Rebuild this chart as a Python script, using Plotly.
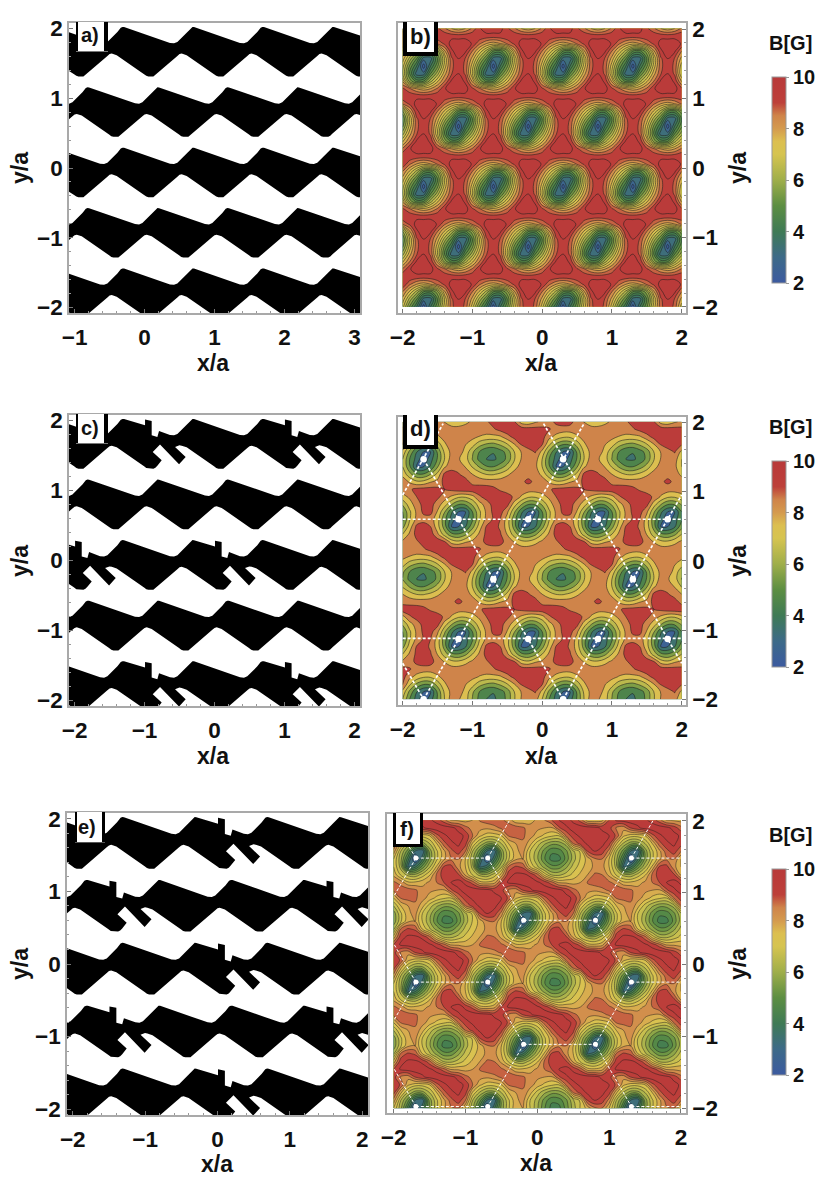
import math
import plotly.graph_objects as go

OFF = 8  # page body margin
W, H = 815, 1178
FONT = "Liberation Sans"

# ---- black pattern: one cell of one band (x/a, y/a)
TOP_START = [(-1.388, .219), (-1.34, .281), (-1.315, .292), (-1.293, .29)]
TOP_NOTCH = [(-.993, .201), (-.993, .282), (-.898, .263), (-.898, .058), (-.817, .035), (-.793, .12)]
TOP_END = [(-.636, .062), (-.579, .057), (-.531, .076)]
BOT_START = [(-1.469, -.09), (-1.398, -.114), (-1.007, -.386), (-.975, -.41), (-.945, -.419), (-.874, -.419), (-.845, -.405), (-.817, -.376)]
BOT_PLAIN = [(-.531, -.124), (-.5, -.098)]
BOT_SLIT = [(-.755, -.299), (-.883, -.18), (-.779, -.075), (-.507, -.356), (-.412, -.251), (-.564, -.108), (-.502, -.084)]
ROW_STEP = .866
ROW_ODD_SHIFT = -.5
ROWS = [-3, -2, -1, 0, 1, 2, 3]
CELLS = list(range(-4, 7))
DEFECTS_A = {}
DEFECTS_C = {2: [0, 2], 0: [-1, 1], -2: [0, 2]}
DEFECTS_E = {2: [1], 1: [0, 3], 0: [1], -1: [0, 3], -2: [1]}

# ---- B field, one repeating cell each (Gauss)
B_CELL = [
    [9.3, 9.35, 9.4, 9.4, 9.35, 9.3, 9.35, 9.45, 9.45, 9.35],
    [9.8, 9.7, 9.1, 8.6, 8.0, 7.7, 8.0, 8.6, 9.45, 9.75],
    [9.8, 9.4, 7.9, 5.8, 4.8, 5.0, 6.3, 7.4, 8.5, 9.6],
    [9.5, 8.9, 7.0, 5.0, 3.2, 3.2, 5.0, 6.3, 7.8, 8.95],
    [9.4, 8.85, 7.2, 5.4, 4.0, 2.2, 4.0, 5.4, 7.2, 8.85],
    [9.5, 8.95, 7.8, 6.3, 5.0, 3.2, 3.2, 5.0, 7.0, 8.9],
    [9.8, 9.6, 8.5, 7.4, 6.3, 5.0, 4.8, 5.8, 7.9, 9.4],
    [9.8, 9.75, 9.45, 8.6, 8.0, 7.7, 8.0, 8.6, 9.1, 9.7],
]
D_CELL = [
    [9.7, 9.6, 9.5, 9.25, 8.85, 8.6, 8.6, 8.55, 8.5, 8.5, 8.5, 8.85, 9.25, 9.35, 9.35, 9.25, 9.0, 9.25, 9.6, 9.7],
    [8.55, 8.5, 8.5, 8.5, 8.5, 8.55, 8.6, 8.8, 9.2, 8.8, 8.6, 7.85, 7.2, 7.3, 7.9, 8.3, 9.35, 9.7, 9.7, 9.5],
    [8, 7.5, 6.95, 6.9, 7.25, 7.85, 8.3, 8.6, 8.7, 8.6, 7.7, 6.3, 5.2, 5.1, 6, 7.3, 9.25, 9.5, 9.1, 8.5],
    [6.9, 5.9, 5.1, 5, 5.55, 6.4, 7.7, 8.3, 8.6, 8.3, 7, 5.2, 3, 3, 4.15, 5.9, 7.85, 8.55, 8.55, 7.95],
    [5.95, 4.7, 4, 3.85, 4.25, 5.3, 6.9, 8.05, 8.55, 8.5, 7, 5, 3.6, 2.2, 3.6, 5.1, 7, 8.5, 8.1, 7.5],
    [6.2, 5, 4.1, 4.05, 4.55, 5.4, 7, 8.05, 8.55, 9.1, 7.7, 5.75, 4.05, 3, 3, 5.2, 7.2, 8.3, 8.5, 7.7],
    [7.45, 6.4, 5.9, 5.7, 6.2, 6.95, 7.95, 9.1, 9.6, 9.6, 9.1, 7.2, 5.8, 5.1, 5.3, 6.4, 7.85, 8.5, 8.55, 8.05],
    [8.3, 7.95, 7.7, 7.7, 7.85, 8.6, 9.35, 9.7, 9.7, 9.6, 9.4, 8.3, 7.7, 7.2, 7.2, 7.85, 8.3, 8.6, 8.6, 8.55],
    [8.5, 8.5, 8.6, 8.85, 9.35, 9.7, 9.7, 9.6, 9.5, 9.4, 9.35, 9.1, 8.55, 8.5, 8.5, 8.5, 8.55, 8.5, 8.5, 8.55],
    [8.2, 8.6, 8.85, 9.4, 9.7, 9.6, 9.1, 7.55, 7.2, 7.85, 8.2, 8.6, 9.25, 9.6, 9.4, 8.5, 7.95, 7.3, 7.2, 7.7],
    [7, 8.2, 9.35, 9.6, 9.5, 8.2, 6.5, 5.35, 5.1, 5.75, 7, 8.2, 9.25, 9.5, 9.1, 7.95, 6.5, 5.35, 5.1, 5.75],
    [5.65, 7.5, 9.25, 9.5, 9, 7.4, 5.55, 3, 3, 3.95, 5.65, 7.5, 9.1, 9.4, 8.85, 7.5, 5.6, 3, 3, 3.85],
    [4.8, 6.9, 8.3, 8.6, 8.5, 7.45, 5.3, 3.6, 2.2, 3.6, 4.8, 6.9, 8.3, 9.1, 9, 7.55, 5.4, 3.6, 2.2, 3.6],
    [5, 6.8, 8.2, 9.25, 9.35, 7.9, 6.1, 4.15, 3, 3, 5, 6.8, 8.2, 9.25, 9.4, 8.2, 6.2, 4.25, 3, 3],
    [6.15, 7.55, 8.5, 9.35, 9.4, 8.5, 7.5, 6.1, 5.1, 5.2, 6.15, 7.55, 8.5, 9.35, 9.5, 9.35, 7.5, 6.1, 5.1, 5.2],
    [7.65, 8.2, 9, 9.5, 9.5, 9.25, 8.5, 7.85, 7.2, 7.15, 7.65, 8.85, 9.4, 9.6, 9.6, 9.35, 8.85, 7.9, 7.2, 7.15],
]
F_CELL = [
    [9.2, 8.4, 8.2, 9.0, 9.4, 9.7, 9.8, 9.8, 9.7, 9.3, 8.7, 8.3, 8.2, 8.1, 8.3, 8.6, 8.8, 8.8, 8.6, 8.2, 8.1, 8, 7.9, 8.9, 9.4, 9.7, 9.8, 9.8, 9.7, 9.4],
    [9.0, 9.6, 9.75, 9.8, 9.75, 9.6, 9.3, 8.7, 7.9, 7.9, 7.8, 8, 8.55, 8.8, 8.9, 8.6, 8.3, 7.6, 7.6, 7.8, 8.1, 8.5, 9.0, 9.5, 9.7, 9.4, 8.8, 7.7, 7.6, 7.8],
    [7.7, 9.3, 9.6, 9.6, 9.4, 8.7, 7.3, 6.4, 6.35, 6.7, 7.15, 7.6, 8, 8.6, 8.5, 7.85, 6.9, 6.3, 6.1, 6.7, 7.4, 8.6, 9.3, 9.5, 9.1, 7.85, 6.9, 6.3, 6.1, 6.7],
    [6.4, 8.6, 9.1, 8.9, 7.5, 6.6, 5.8, 5.2, 5.25, 5.85, 6.7, 7.25, 7.8, 8.1, 8.2, 7.5, 6.3, 3.4, 3.9, 5.2, 6.4, 7.6, 9.1, 9.2, 8.2, 7.5, 6.3, 3.4, 3.9, 5.2],
    [5.65, 6.9, 7.9, 8, 7, 6.1, 5.05, 4.3, 4.3, 5.15, 6.25, 7.05, 7.7, 8.4, 8.5, 7.5, 6.15, 4.2, 2.2, 3.9, 5.65, 6.9, 7.9, 8.4, 8.5, 7.5, 6.15, 4.2, 2.2, 3.9],
    [5.7, 6.9, 7.85, 8.2, 7, 6.25, 5.25, 4.6, 4.7, 5.35, 6.4, 7.1, 9, 9.5, 9.3, 8.3, 6.5, 5.2, 3.4, 3.0, 5.7, 6.9, 7.85, 8.8, 9.3, 8.5, 6.5, 5.2, 3.4, 3.0],
    [6.5, 7.5, 8, 8.4, 7.7, 6.75, 6.1, 5.65, 5.7, 6.2, 8.5, 9.2, 9.6, 9.75, 9.65, 9.2, 7.6, 6.4, 5.7, 5.75, 6.5, 7.5, 8.8, 9.4, 9.6, 9.2, 7.4, 6.4, 5.7, 5.75],
    [7.5, 8.55, 8.7, 8.6, 8.2, 7.8, 7.35, 7.1, 7, 8.5, 9.3, 9.6, 9.75, 9.75, 9.7, 9.5, 8.9, 7.6, 7.2, 7.2, 7.5, 8.8, 9.4, 9.65, 9.7, 9.4, 8.5, 7.6, 7.2, 7.2],
]
GRID_X = [-2 + .1 * i for i in range(41)]
GRID_K = list(range(-24, 14))
GRID_Y = [.6 + .10825 * k for k in GRID_K]

COLORSCALE = [[0, "#3c5aa0"], [.125, "#3d6a88"], [.25, "#3f7a55"], [.375, "#5c8e42"], [.5, "#9fae4a"],
              [.625, "#d6c450"], [.6875, "#dcbf50"], [.75, "#d49a4e"], [.8125, "#cf844a"], [.875, "#bd403a"],
              [.9375, "#bb3c3a"], [1, "#b83a3a"]]

# ---- lattice sites and dashed links
D_DOTS_X = [-1.7, .3, -1.2, -.2, .8, 1.8, -.7, 1.3, -1.2, -.2, .8, 1.8, -1.7, .3]
D_DOTS_Y = [1.466, 1.466, .6, .6, .6, .6, -.266, -.266, -1.13, -1.13, -1.13, -1.13, -2, -2]
D_LINKS = [((-1.7, -2), (.6, 1.98)), ((.3, -2), (2, .95)), ((-2, .95), (-1.42, 1.98)),
           ((-1.7, 1.466), (.3, -2)), ((.02, 1.98), (2, -1.48)), ((-2, -1.48), (-1.7, -2)),
           ((-2, .6), (2, .6)), ((-2, -1.12), (2, -1.12))]
F_DOTS_X = [-1.69, -.69, 1.31, -.19, .81, -1.69, -.69, 1.31, -.19, .81, -1.69, -.69, 1.31]
F_DOTS_Y = [1.48, 1.48, 1.48, .615, .615, -.245, -.245, -.245, -1.11, -1.11, -1.975, -1.975, -1.975]
F_LINKS = [((-1.69, 1.48), (-.69, 1.48)), ((1.31, 1.48), (2, 1.48)), ((-.19, .615), (.81, .615)),
           ((-1.69, -.245), (-.69, -.245)), ((1.31, -.245), (2, -.245)), ((-.19, -1.11), (.81, -1.11)),
           ((-1.69, -1.975), (-.69, -1.975)), ((1.31, -1.975), (2, -1.975)),
           ((-1.69, 1.48), (-2, .943)), ((-1.69, 1.48), (-2, 2)), ((-.69, 1.48), (-.39, 2)),
           ((-.69, 1.48), (-.19, .615)), ((1.31, 1.48), (.81, .615)), ((1.31, 1.48), (1.61, 2)),
           ((-.19, .615), (-.69, -.245)), ((.81, .615), (1.31, -.245)), ((-.69, -.245), (-.19, -1.11)),
           ((-1.69, -.245), (-2, -.782)), ((-1.69, -.245), (-2, .292)), ((1.31, -.245), (.81, -1.11)),
           ((-.19, -1.11), (-.69, -1.975)), ((.81, -1.11), (1.31, -1.975)), ((-1.69, -1.975), (-2, -1.44))]


def tile(cell, k0, i0, shift):
    nr, nc = len(cell), len(cell[0])
    out = []
    for k in GRID_K:
        n = math.floor((k - k0) / nr)
        r = k - k0 - nr * n
        out.append([cell[r][(i - i0 - shift * n) % nc] for i in range(len(GRID_X))])
    return out


def bands(defects):
    xs, ys = [], []
    for r in ROWS:
        dx = ROW_ODD_SHIFT if r % 2 else 0
        dy = r * ROW_STEP
        top, bot = [], []
        for s in CELLS:
            slit = s in defects.get(r, [])
            for (a, b) in TOP_START + (TOP_NOTCH if slit else []) + TOP_END:
                top.append((a + s + dx, b + dy))
            for (a, b) in BOT_START + (BOT_SLIT if slit else BOT_PLAIN):
                bot.append((a + s + dx, b + dy))
        poly = top + bot[::-1] + [top[0]]
        xs += [p[0] for p in poly] + [None]
        ys += [p[1] for p in poly] + [None]
    return xs, ys


def px(x):
    return (x - OFF) / W


def py(y):
    return 1 - (y - OFF) / H


fig = go.Figure()
layout = {}
TICKFONT = dict(family=FONT, size=22.5, color="#111111", weight="bold")
BARFONT = dict(family=FONT, size=20, color="#111111", weight="bold")
GRAY = "#a9a9a9"


def axes(n, frame, xr, yr, right, xticks):
    x0, y0, x1, y1 = frame
    suf = "" if n == 1 else str(n)
    common = dict(showgrid=False, zeroline=False, showline=True, linecolor=GRAY, linewidth=1.6, mirror=True,
                  ticks="inside", ticklen=4, tickwidth=1, tickcolor="#777777", tickfont=TICKFONT,
                  minor=dict(ticks="inside", ticklen=2, tickwidth=.8, tickcolor="#999999", dtick=.2))
    layout["xaxis" + suf] = dict(common, domain=[px(x0), px(x1)], range=xr, anchor="y" + suf,
                                 tickvals=xticks, side="bottom", ticklabelstandoff=3)
    layout["yaxis" + suf] = dict(common, domain=[py(y1), py(y0)], range=yr, anchor="x" + suf,
                                 tickvals=[-2, -1, 0, 1, 2], side="right" if right else "left")


def text(s, x, y, size, angle=0):
    return dict(text=s, x=px(x), y=py(y), xref="paper", yref="paper", showarrow=False, textangle=angle,
                font=dict(family=FONT, size=size, color="#111111", weight="bold"),
                xanchor="center", yanchor="middle")


FRAMES = {1: (69, 23, 360, 313), 2: (398, 23, 686, 313), 3: (69, 415, 360, 706),
          4: (398, 417, 686, 705), 5: (67, 813, 368, 1115), 6: (387, 814, 686, 1113)}
axes(1, FRAMES[1], [-1.08, 3.08], [-2.08, 2.08], False, [-1, 0, 1, 2, 3])
axes(2, FRAMES[2], [-2.067, 2.062], [-2.087, 2.087], True, [-2, -1, 0, 1, 2])
axes(3, FRAMES[3], [-2.08, 2.08], [-2.08, 2.08], False, [-2, -1, 0, 1, 2])
axes(4, FRAMES[4], [-2.067, 2.062], [-2.082, 2.076], True, [-2, -1, 0, 1, 2])
axes(5, FRAMES[5], [-2.08, 2.08], [-2.08, 2.08], False, [-2, -1, 0, 1, 2])
axes(6, FRAMES[6], [-2.092, 2.07], [-2.065, 2.093], True, [-2, -1, 0, 1, 2])

for n, defects, shift in [(1, DEFECTS_A, 1), (3, DEFECTS_C, 0), (5, DEFECTS_E, 0)]:
    xs, ys = bands(defects)
    xs = [None if v is None else v + shift for v in xs]
    suf = "" if n == 1 else str(n)
    fig.add_trace(go.Scatter(x=xs, y=ys, mode="lines", fill="toself", fillcolor="black",
                             line=dict(width=0, color="black"), hoverinfo="skip", showlegend=False,
                             xaxis="x" + suf, yaxis="y" + suf))

for n, z, step, lw in [(2, tile(B_CELL, -4, 13, 5), .5, .7), (4, tile(D_CELL, -12, 0, 10), 1, .7),
                       (6, tile(F_CELL, -4, 0, 15), .5, .6)]:
    fig.add_trace(go.Contour(x=GRID_X, y=GRID_Y, z=z, zauto=False, zmin=2, zmax=10, colorscale=COLORSCALE,
                             contours=dict(start=2, end=10, size=step, coloring="fill"),
                             line=dict(color="rgba(30,30,30,.8)", width=lw, smoothing=1.0),
                             showscale=False, hoverinfo="skip", xaxis="x" + str(n), yaxis="y" + str(n)))


def links(n, segs, dots_x, dots_y, lw, dash, ms):
    xs, ys = [], []
    for a, b in segs:
        xs += [a[0], b[0], None]
        ys += [a[1], b[1], None]
    fig.add_trace(go.Scatter(x=xs, y=ys, mode="lines", line=dict(color="white", width=lw, dash=dash),
                             hoverinfo="skip", showlegend=False, xaxis="x" + str(n), yaxis="y" + str(n)))
    fig.add_trace(go.Scatter(x=dots_x, y=dots_y, mode="markers", marker=dict(color="white", size=ms),
                             hoverinfo="skip", showlegend=False, xaxis="x" + str(n), yaxis="y" + str(n), cliponaxis=True))


links(4, D_LINKS, D_DOTS_X, D_DOTS_Y, 1.7, "3px,2px", 6.5)
links(6, F_LINKS, F_DOTS_X, F_DOTS_Y, 1.0, "3px,2px", 5)

# smooth colour bars
for top in [77, 461, 869]:
    fig.add_trace(go.Scatter(x=[None, None], y=[None, None], mode="markers", showlegend=False, hoverinfo="skip",
                             marker=dict(color=[2, 10], cmin=2, cmax=10, colorscale=COLORSCALE, showscale=True,
                                         colorbar=dict(x=px(772), xanchor="left", y=py(top), yanchor="top",
                                                       lenmode="pixels", len=206, thicknessmode="pixels", thickness=14,
                                                       xpad=0, ypad=0, outlinecolor="#999999", outlinewidth=1,
                                                       tick0=2, dtick=2, ticks="outside", ticklen=3,
                                                       tickcolor="#999999", tickfont=BARFONT)),
                             xaxis="x2", yaxis="y2"))

ann = []
XT = [(213, 363), (541, 363), (213, 756), (541, 756), (217, 1164), (536, 1163)]
YT = [(20, 168), (738, 168), (20, 561), (738, 561), (20, 964), (738, 964)]
for (a, b) in XT:
    ann.append(text("x/a", a, b, 23))
for (a, b) in YT:
    ann.append(text("y/a", a, b, 23, -90))
for y in [43, 427, 835]:
    ann.append(text("B[G]", 790, y, 20))
for s, x, y, sz in [("a)", 90, 35, 20), ("b)", 420, 36, 22), ("c)", 90, 428, 20), ("d)", 420, 428, 22),
                    ("e)", 87, 827, 20), ("f)", 407, 828, 21)]:
    ann.append(text(s, x, y, sz))

shapes = []


def rect(x0, y0, x1, y1, fill):
    shapes.append(dict(type="rect", xref="paper", yref="paper", x0=px(x0), x1=px(x1), y0=py(y1), y1=py(y0),
                       fillcolor=fill, line_width=0, layer="above"))


for x0, y0, x1, y1, lb, rb, bb, bcol in [(76, 22, 108, 52, 2, 4, 1, "#777777"), (403, 22, 438, 56, 4, 4, 4, "black"),
                                         (76, 414, 108, 444, 2, 4, 1, "#777777"), (403, 415, 438, 449, 4, 4, 4, "black"),
                                         (75, 812, 105, 843, 2, 3, 1, "#555555"), (393, 813, 423, 847, 3, 3, 3, "black")]:
    rect(x0, y0, x1, y1, "white")
    rect(x0, y0, x0 + lb, y1, "black")
    rect(x1 - rb, y0, x1, y1, "black")
    rect(x0, y1 - bb, x1, y1, bcol)

fig.update_layout(width=W, height=H, autosize=False,
                  margin=dict(l=0, r=0, t=0, b=0, autoexpand=False), paper_bgcolor="white",
                  plot_bgcolor="white", showlegend=False, annotations=ann, shapes=shapes, **layout)
fig.write_html("out.html")
